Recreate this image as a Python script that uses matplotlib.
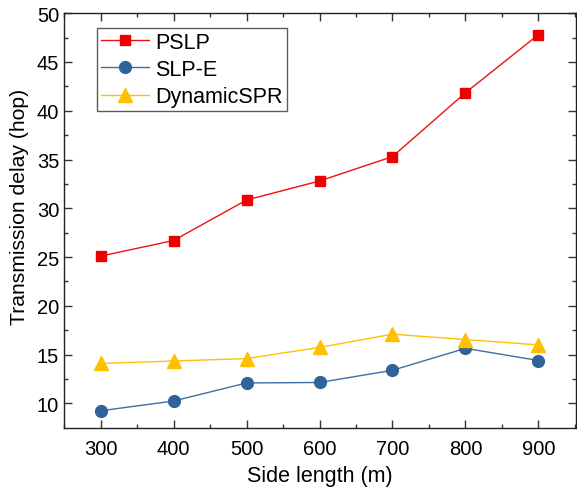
import matplotlib
matplotlib.use("Agg")
import matplotlib.pyplot as plt

plt.rcParams['font.family'] = ['Liberation Sans', 'DejaVu Sans']

side_length = [300, 400, 500, 600, 700, 800, 900]
pslp = [25.1, 26.7, 30.85, 32.8, 35.3, 41.85, 47.8]
slp_e = [9.25, 10.25, 12.1, 12.15, 13.4, 15.65, 14.4]
dynamic_spr = [14.1, 14.35, 14.6, 15.75, 17.1, 16.55, 16.0]

fig = plt.figure(figsize=(5.77, 4.89), dpi=100)
ax = fig.add_axes([0.111, 0.123, 0.888, 0.848])

ax.plot(side_length, pslp, color='#ee1111', marker='s', markersize=7.5, lw=1.0,
        markeredgecolor='#ee0000', markerfacecolor='#ee0000', label='PSLP')
ax.plot(side_length, slp_e, color='#3b6fa8', marker='o', markersize=8.5, lw=1.0,
        markeredgecolor='#2f6399', markerfacecolor='#2f6399', label='SLP-E')
ax.plot(side_length, dynamic_spr, color='#ffc000', marker='^', markersize=9.5, lw=1.0,
        markeredgecolor='#ffc000', markerfacecolor='#ffc000', label='DynamicSPR')

ax.set_xlim(250, 952)
ax.set_ylim(7.5, 50)
ax.set_xticks(side_length)
ax.set_xticks([250, 350, 450, 550, 650, 750, 850, 950], minor=True)
ax.set_yticks([10, 15, 20, 25, 30, 35, 40, 45, 50])
ax.set_yticks([12.5, 17.5, 22.5, 27.5, 32.5, 37.5, 42.5, 47.5], minor=True)

ax.tick_params(which='both', direction='in', top=True, right=True, labelsize=14.5,
               color='#333333')
ax.tick_params(which='major', length=6, width=1)
ax.tick_params(which='minor', length=3, width=1)
ax.tick_params(axis='x', pad=8)
for s in ax.spines.values():
    s.set_color('#222222')
    s.set_linewidth(1.0)

ax.set_xlabel('Side length (m)', fontsize=15.5, labelpad=5)
ax.set_ylabel('Transmission delay (hop)', fontsize=15.2)
ax.yaxis.set_label_coords(-0.068, 0.535)

leg = ax.legend(loc='upper left', bbox_to_anchor=(0.064, 0.965), fontsize=15.5,
                frameon=True, fancybox=False, edgecolor='#333333',
                borderpad=0.2, labelspacing=0.28, handlelength=2.2,
                handletextpad=0.3, borderaxespad=0)
leg.get_frame().set_linewidth(1.0)

fig.savefig('out.png', dpi=100)
